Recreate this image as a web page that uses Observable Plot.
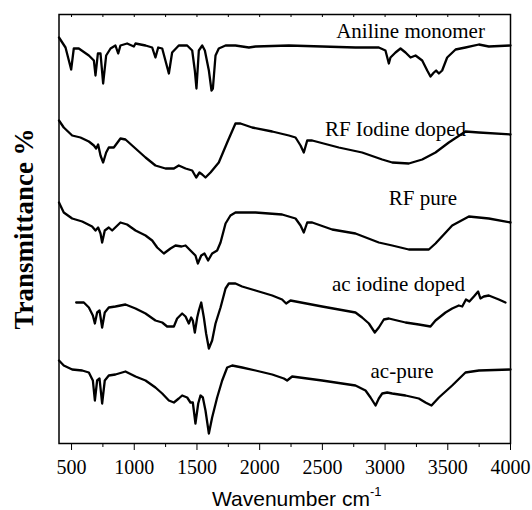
<!DOCTYPE html>
<html><head><meta charset="utf-8">
<script src="https://cdn.jsdelivr.net/npm/d3@7"></script>
<script src="https://cdn.jsdelivr.net/npm/@observablehq/plot@0.6"></script>
<style>body{margin:0;background:#fff}</style>
</head><body><div id="chart"></div>
<script>
// [wavenumber (cm-1), transmittance (arbitrary, offset)]
const aniline = [[400,406],[452,396],[497,374],[518,395],[558,395],[638,388],[678,383],[691,368],[710,390],[731,390],[752,360],[776,388],[811,395],[850,398],[872,390],[890,398],[943,400],[997,397],[1010,400],[1090,398],[1143,396],[1169,386],[1191,396],[1223,395],[1276,370],[1302,391],[1355,398],[1422,398],[1462,393],[1483,373],[1496,355],[1515,393],[1542,398],[1563,393],[1595,373],[1616,353],[1627,355],[1648,388],[1674,395],[1728,398],[1807,398],[1914,396],[1967,397],[2233,398],[2498,397],[2764,396],[2950,396],[3003,393],[3030,380],[3043,386],[3083,391],[3123,395],[3163,391],[3203,386],[3243,388],[3296,383],[3336,373],[3362,367],[3389,371],[3407,373],[3429,370],[3455,373],[3495,386],[3562,394],[3641,396],[3748,399],[3827,397],[4000,398]];
const rfIodine = [[400,323],[438,316],[505,308],[571,306],[638,302],[678,298],[696,295],[712,299],[731,288],[752,281],[776,291],[797,296],[837,296],[890,305],[930,304],[1010,295],[1090,286],[1169,278],[1249,275],[1316,275],[1355,278],[1409,275],[1462,273],[1494,266],[1520,271],[1542,269],[1568,266],[1608,271],[1674,281],[1741,301],[1807,320],[1847,320],[1940,316],[2100,312],[2233,308],[2286,306],[2326,298],[2352,291],[2379,303],[2419,303],[2631,296],[2817,291],[2977,284],[3057,281],[3189,280],[3296,284],[3402,291],[3508,301],[3641,312],[3748,311],[4000,309]];
const rfPure = [[400,241],[438,231],[505,225],[585,222],[664,217],[691,213],[712,216],[731,210],[744,201],[765,213],[797,216],[824,213],[890,221],[943,219],[1010,213],[1090,208],[1143,203],[1183,196],[1236,190],[1289,195],[1329,198],[1377,197],[1409,198],[1448,193],[1488,188],[1507,180],[1534,188],[1560,190],[1589,183],[1621,190],[1661,193],[1688,201],[1728,220],[1767,228],[1807,231],[1967,231],[2179,229],[2286,225],[2326,218],[2352,211],[2379,221],[2419,221],[2578,214],[2764,210],[2950,201],[3057,198],[3189,194],[3349,194],[3402,200],[3535,218],[3668,227],[3827,225],[4000,221]];
const acIodine = [[537,141],[598,141],[638,136],[670,128],[686,120],[704,131],[723,133],[744,116],[765,131],[797,136],[850,137],[930,139],[1010,135],[1090,130],[1169,123],[1223,121],[1262,117],[1316,117],[1342,125],[1382,130],[1409,127],[1435,120],[1454,126],[1467,123],[1483,111],[1502,126],[1515,133],[1534,141],[1555,126],[1573,110],[1595,95],[1621,103],[1648,120],[1688,136],[1728,155],[1754,160],[1807,160],[1860,157],[1967,153],[2100,148],[2179,144],[2211,140],[2246,143],[2498,137],[2764,131],[2817,126],[2871,120],[2918,111],[2950,116],[2990,124],[3030,125],[3163,121],[3269,119],[3362,117],[3402,123],[3482,131],[3535,135],[3588,138],[3615,137],[3645,144],[3672,142],[3708,147],[3742,152],[3760,145],[3787,147],[3827,148],[3867,146],[3907,144],[3960,141]];
const acPure = [[400,83],[438,78],[505,74],[585,73],[638,71],[670,63],[686,43],[704,63],[723,65],[744,40],[765,63],[797,68],[850,69],[930,72],[1010,67],[1090,63],[1169,56],[1223,50],[1276,43],[1316,41],[1355,45],[1382,48],[1422,46],[1448,41],[1467,41],[1488,20],[1510,40],[1528,48],[1547,46],[1568,33],[1595,10],[1621,26],[1661,46],[1701,63],[1741,76],[1781,78],[1860,76],[1967,73],[2100,69],[2193,65],[2219,63],[2259,67],[2498,63],[2764,58],[2844,53],[2884,46],[2924,38],[2950,45],[2977,50],[3017,51],[3057,50],[3163,48],[3269,45],[3322,41],[3370,38],[3429,46],[3535,58],[3641,71],[3748,73],[4000,74]];

const seriesNames = ["Aniline monomer", "RF Iodine doped", "RF pure", "ac iodine doped", "ac-pure"];
const labelX = [3203, 3083, 3302, 3107, 3135];
const labelY = [412, 314, 245, 159, 72];
const majorTicks = [500, 1000, 1500, 2000, 2500, 3000, 3500, 4000];
const minorTicks = [750, 1250, 1750, 2250, 2750, 3250, 3750];

const rows = [aniline, rfIodine, rfPure, acIodine, acPure]
  .flatMap((arr, i) => arr.map(([x, y]) => ({x, y, name: seriesNames[i]})));
const labels = seriesNames.map((name, i) => ({name, x: labelX[i], y: labelY[i]}));

const serif = "'Liberation Serif','Times New Roman',serif";
const chart = Plot.plot({
  width: 532, height: 510,
  marginLeft: 58.5, marginRight: 22, marginTop: 14, marginBottom: 67,
  x: {domain: [400, 4000]},
  y: {domain: [0, 429], axis: null},
  style: {fontFamily: serif, background: "#fff", color: "#000", overflow: "visible"},
  marks: [
    Plot.axisX({ticks: minorTicks, tickSize: 4, tickFormat: () => "", label: null}),
    Plot.axisX({ticks: majorTicks, tickSize: 7, tickPadding: 9, tickFormat: d => String(d), fontSize: 20, label: null}),
    Plot.ruleX(majorTicks.concat(minorTicks), {y1: 429, y2: 426, stroke: "#000"}),
    Plot.line(rows, {x: "x", y: "y", z: "name", stroke: "#000", strokeWidth: 2.3, strokeLinejoin: "round"}),
    Plot.frame({stroke: "#000", strokeWidth: 1.5}),
    Plot.text(labels, {x: "x", y: "y", text: "name", fontSize: 21, fill: "#000"}),
    Plot.text(["Wavenumber cm"], {text: d => d, frameAnchor: "bottom", textAnchor: "middle", lineAnchor: "middle", dx: 12, dy: 56, fontSize: 21, fontFamily: "'Liberation Sans',Arial,sans-serif", fill: "#000"}),
    Plot.text(["Transmittance %"], {text: d => d, frameAnchor: "left", textAnchor: "middle", lineAnchor: "middle", rotate: -90, dx: -35, fontSize: 27, fontWeight: "bold", fill: "#000"})
  ]
});
d3.select(chart).selectAll("text")
  .filter(function() { return this.textContent === "Wavenumber cm"; })
  .append("tspan").attr("dy", "-10").attr("font-size", "13").text("-1");
document.getElementById("chart").appendChild(chart);
</script>
</body></html>
